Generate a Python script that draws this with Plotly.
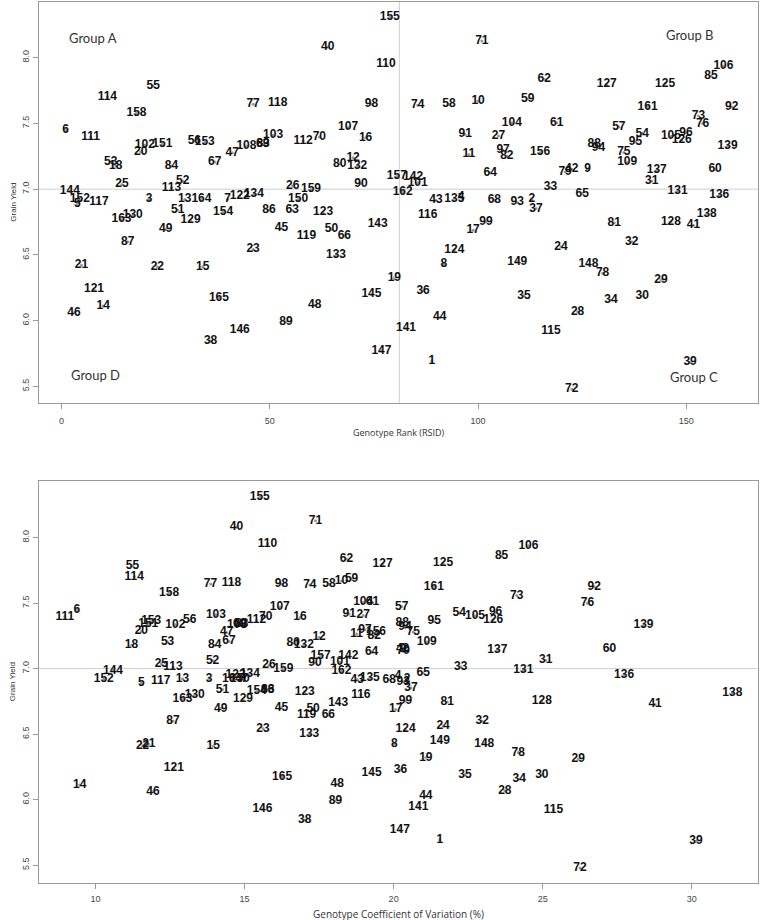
import plotly.graph_objects as go

labels = [1,2,3,4,5,6,7,8,9,10,11,12,13,14,15,16,17,18,19,20,21,22,23,24,25,26,27,28,29,30,
          31,32,33,34,35,36,37,38,39,40,41,42,43,44,45,46,47,48,49,50,51,52,53,54,55,56,57,58,59,60,
          61,62,63,64,65,66,67,68,69,70,71,72,73,74,75,76,77,78,79,80,81,82,83,84,85,86,87,88,89,90,
          91,92,93,94,95,96,97,98,99,101,102,103,104,105,106,107,108,109,110,111,112,113,114,115,116,117,118,119,
          121,123,124,125,126,127,128,129,130,131,132,133,134,135,136,137,138,139,141,142,143,144,145,146,147,148,149,150,
          151,152,153,154,155,156,157,158,159,161,162,163,164,165,122]

rank = [88.9,112.9,21.0,95.9,3.8,1.0,39.9,91.8,126.3,100.0,97.8,70.0,29.6,10.0,33.9,73.0,98.8,13.0,79.9,19.0,
        4.8,23.0,46.0,119.9,14.5,55.5,104.9,123.9,143.9,139.4,141.7,136.9,117.4,131.9,111.0,86.8,113.9,35.8,150.9,63.9,
        151.7,122.5,89.9,90.8,52.8,3.0,41.0,60.8,25.0,64.8,27.9,29.1,11.8,139.4,22.0,31.9,133.8,93.0,111.9,156.9,
        118.9,115.9,55.4,102.9,125.0,67.9,36.8,103.9,48.3,61.9,100.9,122.5,152.9,85.5,135.0,153.9,46.0,129.9,120.9,66.8,
        132.7,106.9,48.4,26.4,155.9,49.8,15.9,127.9,53.9,71.9,96.9,160.9,109.4,128.9,137.8,149.9,106.0,74.4,101.9,
        85.5,20.0,50.8,108.1,146.3,158.9,68.8,44.4,135.8,77.9,7.0,58.0,26.4,11.0,117.5,87.9,9.0,51.9,58.8,
        7.8,62.8,94.3,144.9,148.9,130.9,146.3,31.0,17.1,147.9,71.0,65.9,46.2,94.3,157.9,142.9,154.9,159.9,82.7,84.4,
        75.9,2.0,74.4,42.8,76.8,126.5,109.4,56.8,24.2,4.4,34.4,38.8,78.8,114.9,80.5,18.0,59.9,140.7,81.9,14.4,33.6,37.8,42.8]

cv = [21.55,20.45,13.81,20.15,11.54,9.38,15.00,20.02,20.31,18.25,18.76,17.50,12.92,9.47,13.95,16.86,20.07,11.21,21.08,11.54,
      11.79,11.58,15.62,21.66,12.21,15.82,18.98,23.73,26.19,24.97,25.10,22.97,22.25,24.21,22.39,20.23,20.58,17.02,30.14,14.73,
      28.77,20.30,18.78,21.08,16.24,11.93,14.40,18.11,14.20,17.30,14.26,13.93,12.42,22.20,11.24,13.16,20.27,17.83,18.59,27.24,
      19.29,18.42,15.78,19.26,20.99,17.81,14.48,19.85,14.84,15.71,17.38,26.25,24.13,17.19,20.66,26.50,13.86,24.18,20.32,16.63,
      21.80,19.35,14.91,14.00,23.62,15.78,12.60,20.29,18.05,17.36,18.51,26.73,20.32,20.38,21.36,23.42,19.04,16.24,20.40,
      18.20,12.68,14.04,18.98,22.73,24.52,16.18,14.75,21.11,15.77,8.97,15.40,12.60,11.30,25.36,18.90,12.19,14.56,17.08,
      12.63,17.02,20.40,21.66,23.34,19.63,24.97,14.95,13.33,24.35,16.99,17.17,15.18,19.20,27.73,23.48,31.36,28.38,20.83,18.48,
      18.14,10.59,19.26,15.60,20.21,23.04,21.55,14.84,11.77,10.28,11.87,15.41,15.51,19.41,17.55,12.47,16.30,21.35,18.25,12.92,14.58,16.26,14.70]

yld = [5.693,6.922,6.924,6.940,6.891,7.448,6.924,6.428,7.152,7.669,7.264,7.238,6.922,6.111,6.410,7.390,6.688,7.177,6.321,7.283,
       6.422,6.410,6.542,6.562,7.036,7.025,7.405,6.068,6.309,6.189,7.063,6.600,7.013,6.157,6.189,6.227,6.853,5.845,5.683,8.081,
       6.726,7.152,6.916,6.025,6.701,6.060,7.276,6.119,6.694,6.694,6.840,7.061,7.203,7.423,7.783,7.367,7.473,7.644,7.684,7.150,
       7.504,7.836,6.840,7.124,6.967,6.643,7.207,6.916,7.340,7.397,8.127,5.478,7.557,7.638,7.279,7.499,7.646,6.359,7.131,7.195,
       6.744,7.251,7.340,7.177,7.861,6.840,6.600,7.347,5.992,7.043,7.416,7.625,6.899,7.314,7.359,7.428,7.296,7.646,6.752,
       7.048,7.334,7.410,7.504,7.403,7.937,7.469,7.329,7.203,7.950,7.397,7.367,7.010,7.701,5.923,6.802,6.903,7.656,6.643,
       6.240,6.823,6.536,7.803,7.372,7.796,6.752,6.764,6.802,6.987,7.177,6.498,6.962,6.929,6.954,7.144,6.815,7.329,5.941,7.093,
       6.734,6.985,6.200,5.929,5.769,6.428,6.448,6.922,7.342,6.922,7.359,6.828,8.309,7.279,7.099,7.580,6.998,7.625,6.979,6.770,6.922,6.174,6.950]

x_ticks_top = [0, 50, 100, 150]
x_ticks_bot = [10, 15, 20, 25, 30]
y_ticks = [5.5, 6.0, 6.5, 7.0, 7.5, 8.0]
rank_ref = 81.1
yield_ref = 7.0

txt = [str(v) for v in labels]
lab_font = dict(family="Liberation Sans, Arial", size=12, color="#111111", weight="bold")
mk = dict(size=3, color="#9a9a9a")

fig = go.Figure()
fig.add_trace(go.Scatter(x=rank, y=yld, mode="markers+text", text=txt, textposition="middle center",
                         textfont=lab_font, marker=mk, xaxis="x", yaxis="y", hoverinfo="skip"))
fig.add_trace(go.Scatter(x=cv, y=yld, mode="markers+text", text=txt, textposition="middle center",
                         textfont=lab_font, marker=mk, xaxis="x2", yaxis="y2", hoverinfo="skip"))

axis_common = dict(showgrid=False, zeroline=False, showline=True, mirror=True, linecolor="#9a9a9a",
                   linewidth=1, ticks="outside", ticklen=5, tickcolor="#9a9a9a",
                   tickfont=dict(family="Liberation Sans, Arial", size=9, color="#444444"))

fig.update_layout(
    width=760, height=920, margin=dict(l=39, r=2, t=2, b=37),
    paper_bgcolor="white", plot_bgcolor="white", showlegend=False,
    xaxis=dict(domain=[0, 1], range=[-5.4, 167.2], tickvals=x_ticks_top, anchor="y",
               ticklabelstandoff=4, **axis_common),
    yaxis=dict(domain=[0.5448, 1], range=[5.374, 8.423], tickvals=y_ticks, tickformat=".1f",
               tickangle=-90, anchor="x", **axis_common),
    xaxis2=dict(domain=[0, 1], range=[8.107, 32.22], tickvals=x_ticks_bot, anchor="y2",
                ticklabelstandoff=2, **axis_common),
    yaxis2=dict(domain=[0, 0.4563], range=[5.364, 8.431], tickvals=y_ticks, tickformat=".1f",
                tickangle=-90, anchor="x2", **axis_common),
)

line_style = dict(color="#cfcfcf", width=1)
fig.add_shape(type="line", xref="x domain", yref="y", x0=0, x1=1, y0=yield_ref, y1=yield_ref, line=line_style, layer="below")
fig.add_shape(type="line", xref="x", yref="y domain", x0=rank_ref, x1=rank_ref, y0=0, y1=1, line=line_style, layer="below")
fig.add_shape(type="line", xref="x2 domain", yref="y2", x0=0, x1=1, y0=yield_ref, y1=yield_ref, line=line_style, layer="below")

grp_font = dict(family="Lato, Open Sans", size=13, color="#333333")
groups = [("Group A", 7.5, 8.15), ("Group B", 150.8, 8.17), ("Group C", 151.8, 5.57), ("Group D", 8.2, 5.59)]
for g, gx, gy in groups:
    fig.add_annotation(x=gx, y=gy, xref="x", yref="y", text=g, showarrow=False, font=grp_font)

title_font = dict(family="Open Sans, Liberation Sans", size=9, color="#333333")
fig.add_annotation(x=0.5, y=-0.095, xref="x domain", yref="y domain", text="Genotype Rank (RSID)",
                   showarrow=False, font=title_font)
fig.add_annotation(x=0.5, y=-0.1, xref="x2 domain", yref="y2 domain", text="Genotype Coefficient of Variation (%)",
                   showarrow=False, font=dict(family="Open Sans, Liberation Sans", size=10, color="#333333"))
for ax in ["y", "y2"]:
    fig.add_annotation(x=-0.045, y=0.5, xref="paper", yref=ax + " domain", text="Grain Yield",
                       textangle=-90, showarrow=False, font=dict(family="Liberation Sans, Arial", size=8, color="#333333"))

fig.write_html("out.html")
